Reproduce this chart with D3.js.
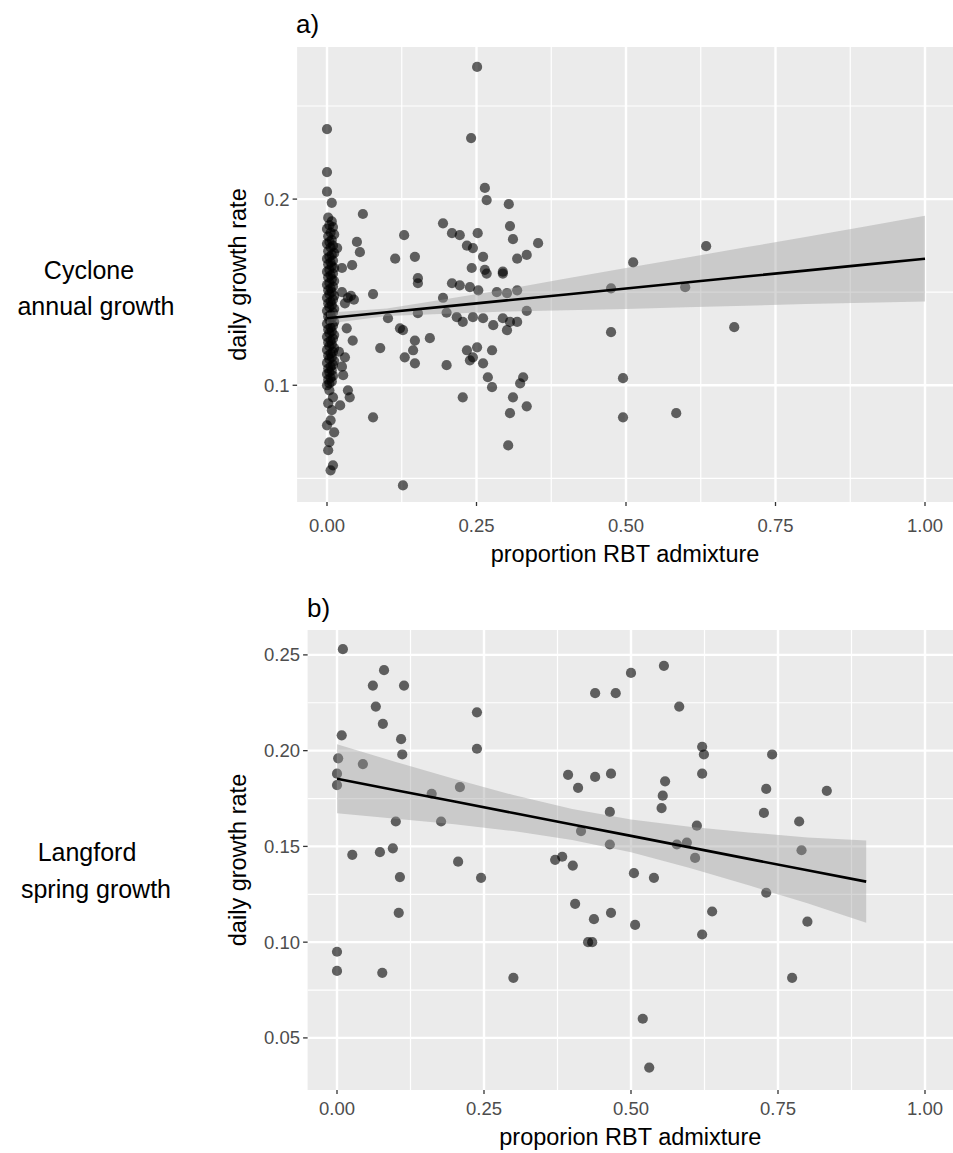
<!DOCTYPE html>
<html><head><meta charset="utf-8">
<script src="https://cdn.jsdelivr.net/npm/d3@7"></script>
<style>body{margin:0;background:#fff}svg{display:block}text{font-family:"Liberation Sans",Arial,sans-serif}</style>
</head><body><svg id="c" width="953" height="1153"></svg>
<script>
// ---------- Panel a data (Cyclone annual growth) ----------
const aX = [
0.251,0.241,0.060,0.264,0.267,0.304,0.194,0.306,0.209,0.222,0.252,0.129,0.050,0.311,0.353,0.234,0.244,0.055,0.017,0.261,
0.318,0.334,0.114,0.147,0.025,0.042,0.242,0.264,0.294,0.152,0.152,0.239,0.253,0.267,0.294,0.209,0.222,0.194,0.077,0.035,
0.030,0.284,0.301,0.318,0.334,0.152,0.102,0.122,0.127,0.200,0.217,0.227,0.244,0.261,0.278,0.294,0.306,0.318,0.301,0.033,
0.043,0.147,0.144,0.172,0.089,0.130,0.147,0.200,0.234,0.251,0.244,0.261,0.276,0.239,0.269,0.276,0.328,0.323,0.227,0.311,
0.334,0.306,0.303,0.077,0.127,0.512,0.634,0.475,0.599,0.475,0.681,0.495,0.584,0.495,0.027,0.035,0.038,0.022,0.040,0.045,
0.025,0.030,0.020,0.025,
0.004,0.010,0.002,0.008,0.006,0.000,0.012,0.004,0.002,0.010,0.006,
0.000,0.000,0.000,0.008,
0.002,0.008,0.004,0.010,0.000,0.006,0.012,0.002,0.008,0.004,0.000,0.010,0.006,0.002,0.012,0.008,0.004,0.000,0.010,0.006,
0.002,0.008,0.012,0.004,0.000,0.010,0.006,0.002,0.008,0.012,0.004,0.000,0.010,0.006,0.002,0.008,0.004,0.012,0.000,0.010,
0.006,0.002,0.008,0.004,0.012,0.000,0.010,0.006,0.002,0.008,0.004,0.012,0.000,0.010,0.006,0.002,0.008,0.004,0.012,0.000,
0.010,0.006,0.002,0.008,0.004,0.012,0.000,0.010,0.006,0.002,0.008,0.004,0.012,0.000,0.010,0.006,0.002,0.008,0.004,0.000,
0.010,0.006,0.002,0.008,0.004,0.000];
const aY = [
0.271,0.2328,0.192,0.206,0.1995,0.1973,0.187,0.1855,0.1817,0.1806,0.1817,0.1806,0.177,0.1785,0.1763,0.175,0.1737,0.1715,0.1737,0.169,
0.168,0.170,0.168,0.169,0.163,0.1645,0.163,0.162,0.161,0.1575,0.1548,0.1527,0.151,0.160,0.160,0.1548,0.1537,0.147,0.149,0.147,
0.144,0.150,0.1495,0.151,0.140,0.1387,0.136,0.1306,0.1296,0.139,0.1366,0.134,0.1366,0.136,0.1323,0.136,0.134,0.134,0.1296,0.1306,
0.124,0.124,0.1188,0.1253,0.120,0.115,0.1118,0.1108,0.1188,0.1204,0.115,0.1118,0.1188,0.1134,0.1043,0.099,0.1043,0.101,0.0935,0.0935,
0.0887,0.085,0.0677,0.0828,0.0462,0.166,0.1747,0.152,0.1527,0.1285,0.1312,0.1038,0.085,0.0828,0.1054,0.0973,0.0935,0.0892,0.148,0.146,
0.150,0.115,0.118,0.110,
0.0973,0.0935,0.0903,0.0866,0.0812,0.0785,0.0747,0.0694,0.0651,0.057,0.0543,
0.2376,0.2145,0.204,0.198,
0.190,0.188,0.186,0.185,0.184,0.182,0.181,0.180,0.178,0.177,0.176,0.175,0.174,0.172,0.171,0.170,0.169,0.168,0.167,0.166,
0.165,0.164,0.163,0.162,0.161,0.160,0.159,0.158,0.157,0.156,0.155,0.154,0.153,0.152,0.151,0.150,0.149,0.148,0.147,0.146,
0.145,0.144,0.143,0.142,0.141,0.140,0.139,0.138,0.137,0.136,0.135,0.134,0.133,0.132,0.131,0.130,0.129,0.128,0.127,0.126,
0.125,0.124,0.123,0.122,0.121,0.120,0.119,0.118,0.117,0.116,0.115,0.114,0.113,0.112,0.111,0.110,0.109,0.108,0.107,0.106,
0.105,0.104,0.103,0.102,0.101,0.100];
// fitted line + 95% band, panel a
const aFitX  = [0,0.1,0.2,0.3,0.4,0.5,0.6,0.7,0.8,0.9,1.0];
const aFitY  = [0.136,0.1392,0.1424,0.1456,0.1488,0.152,0.1552,0.1584,0.1616,0.1648,0.168];
const aFitLo = [0.133,0.1372,0.1384,0.1396,0.1403,0.141,0.1419,0.1427,0.1436,0.1443,0.145];
const aFitHi = [0.139,0.1412,0.1464,0.1516,0.1573,0.163,0.1685,0.1741,0.1796,0.1853,0.191];

// ---------- Panel b data (Langford spring growth) ----------
const bX = [0.01,0.08,0.061,0.114,0.066,0.078,0.008,0.109,0.238,0.238,0.002,0.111,0.044,0.0,0.0,0.209,0.161,0.177,0.1,0.026,
0.073,0.095,0.206,0.393,0.41,0.415,0.371,0.383,0.401,0.107,0.245,0.405,0.427,0.105,0.0,0.0,0.077,0.30,0.774,0.52,
0.531,0.5,0.556,0.439,0.474,0.582,0.621,0.624,0.74,0.439,0.466,0.558,0.554,0.552,0.621,0.73,0.833,0.726,0.786,0.464,
0.612,0.464,0.578,0.595,0.609,0.79,0.505,0.539,0.73,0.437,0.466,0.507,0.638,0.8,0.434,0.621];
const bY = [0.253,0.242,0.234,0.234,0.223,0.214,0.208,0.206,0.220,0.201,0.196,0.198,0.193,0.188,0.182,0.181,0.1775,0.163,0.163,0.1456,
0.147,0.149,0.142,0.1874,0.1806,0.158,0.143,0.1446,0.140,0.134,0.1336,0.120,0.100,0.1153,0.095,0.085,0.084,0.0814,0.0814,0.060,
0.0345,0.2406,0.2443,0.230,0.230,0.223,0.202,0.198,0.198,0.1863,0.188,0.184,0.1765,0.170,0.188,0.180,0.179,0.1675,0.163,0.168,
0.1608,0.151,0.151,0.152,0.144,0.148,0.136,0.1336,0.1258,0.112,0.1153,0.109,0.116,0.1107,0.100,0.104];
const bFitX  = [0,0.1,0.2,0.3,0.4,0.5,0.6,0.7,0.8,0.9];
const bFitY  = [0.1853,0.1793,0.1734,0.1674,0.1614,0.1555,0.1495,0.1435,0.1375,0.1316];
const bFitLo = [0.1673,0.1645,0.1616,0.158,0.1533,0.1469,0.1387,0.1297,0.1203,0.1101];
const bFitHi = [0.2033,0.1941,0.1852,0.1768,0.1695,0.1641,0.1603,0.1573,0.1547,0.1531];

// ---------- axis ticks ----------
const aXTicks = [0,0.25,0.5,0.75,1.0], aXTickLabels = ["0.00","0.25","0.50","0.75","1.00"];
const aYTicks = [0.1,0.2], aYTickLabels = ["0.1","0.2"];
const aYMinor = [0.05,0.15,0.25];
const bYTicks = [0.05,0.10,0.15,0.20,0.25], bYTickLabels = ["0.05","0.10","0.15","0.20","0.25"];
const bYMinor = [0.075,0.125,0.175,0.225];
const xMinor = [0.125,0.375,0.625,0.875];

const svg = d3.select("#c");
function txt(x,y,s,size,anchor,color,rot){
  const t = svg.append("text").attr("font-size",size).attr("fill",color||"#000")
    .attr("text-anchor",anchor||"middle").text(s);
  if(rot) t.attr("transform",`translate(${x},${y}) rotate(-90)`);
  else t.attr("x",x).attr("y",y);
  return t;
}

function panel(cfg){
  const x = d3.scaleLinear().domain([0,1]).range(cfg.xr);
  const y = d3.scaleLinear().domain(cfg.yd).range([cfg.bottom,cfg.top]);
  const L = x(-0.05), R = Math.min(953, x(1.05));
  const g = svg.append("g");
  g.append("rect").attr("x",L).attr("y",cfg.top).attr("width",R-L).attr("height",cfg.bottom-cfg.top).attr("fill","#EBEBEB");
  cfg.yMinor.forEach(v=>{ if(y(v)>cfg.top&&y(v)<cfg.bottom) g.append("line").attr("x1",L).attr("x2",R).attr("y1",y(v)).attr("y2",y(v)).attr("stroke","#fff").attr("stroke-width",1.2);});
  xMinor.forEach(v=>g.append("line").attr("x1",x(v)).attr("x2",x(v)).attr("y1",cfg.top).attr("y2",cfg.bottom).attr("stroke","#fff").attr("stroke-width",1.2));
  cfg.yTicks.forEach(v=>g.append("line").attr("x1",L).attr("x2",R).attr("y1",y(v)).attr("y2",y(v)).attr("stroke","#fff").attr("stroke-width",2.4));
  aXTicks.forEach(v=>g.append("line").attr("x1",x(v)).attr("x2",x(v)).attr("y1",cfg.top).attr("y2",cfg.bottom).attr("stroke","#fff").attr("stroke-width",2.4));
  // points
  const pts = cfg.px.map((d,i)=>[d,cfg.py[i]]);
  g.selectAll("circle.p").data(pts).join("circle").attr("cx",d=>x(d[0])).attr("cy",d=>y(d[1])).attr("r",5.1)
    .attr("fill","#000").attr("fill-opacity",0.6);
  // band
  const band = cfg.fx.map((d,i)=>({x:d,lo:cfg.flo[i],hi:cfg.fhi[i],m:cfg.fy[i]}));
  g.append("path").attr("d",d3.area().x(d=>x(d.x)).y0(d=>y(d.lo)).y1(d=>y(d.hi))(band)).attr("fill","#999").attr("fill-opacity",0.4);
  g.append("path").attr("d",d3.line().x(d=>x(d.x)).y(d=>y(d.m))(band)).attr("fill","none").attr("stroke","#000").attr("stroke-width",2.6);
  // axes ticks
  aXTicks.forEach((v,i)=>{
    g.append("line").attr("x1",x(v)).attr("x2",x(v)).attr("y1",cfg.bottom).attr("y2",cfg.bottom+4).attr("stroke","#333").attr("stroke-width",1.3);
    txt(x(v),cfg.tickBase,aXTickLabels[i],18.5,"middle","#4D4D4D");
  });
  cfg.yTicks.forEach((v,i)=>{
    g.append("line").attr("x1",L-4.5).attr("x2",L).attr("y1",y(v)).attr("y2",y(v)).attr("stroke","#333").attr("stroke-width",1.3);
    txt(L-7.5,y(v)+6.5,cfg.yLabels[i],18.5,"end","#4D4D4D");
  });
  txt((L+R)/2,cfg.titleBase,cfg.xTitle,23.5,"middle","#000");
  txt(cfg.yTitleX,(cfg.top+cfg.bottom)/2,"daily growth rate",23.5,"middle","#000",true);
  txt(cfg.tagX,cfg.tagBase,cfg.tag,26,"start","#000");
  txt(cfg.s1[0],cfg.s1[1],cfg.side[0],25,"middle","#000");
  txt(cfg.s2[0],cfg.s2[1],cfg.side[1],25,"middle","#000");
}

panel({xr:[327,925],yd:[0.0373,0.2817],top:47,bottom:502,px:aX,py:aY,fx:aFitX,fy:aFitY,flo:aFitLo,fhi:aFitHi,
  yTicks:aYTicks,yLabels:aYTickLabels,yMinor:aYMinor,xTitle:"proportion RBT admixture",yTitleX:246,tag:"a)",tagX:296,tagBase:33,
  tickBase:532,titleBase:562,side:["Cyclone","annual growth"],s1:[89,279],s2:[96,315]});
panel({xr:[337,925],yd:[0.0228,0.263],top:630,bottom:1090,px:bX,py:bY,fx:bFitX,fy:bFitY,flo:bFitLo,fhi:bFitHi,
  yTicks:bYTicks,yLabels:bYTickLabels,yMinor:bYMinor,xTitle:"proporion RBT admixture",yTitleX:246,tag:"b)",tagX:307,tagBase:617,
  tickBase:1115,titleBase:1145,side:["Langford","spring growth"],s1:[87,861],s2:[96,898]});
</script></body></html>
